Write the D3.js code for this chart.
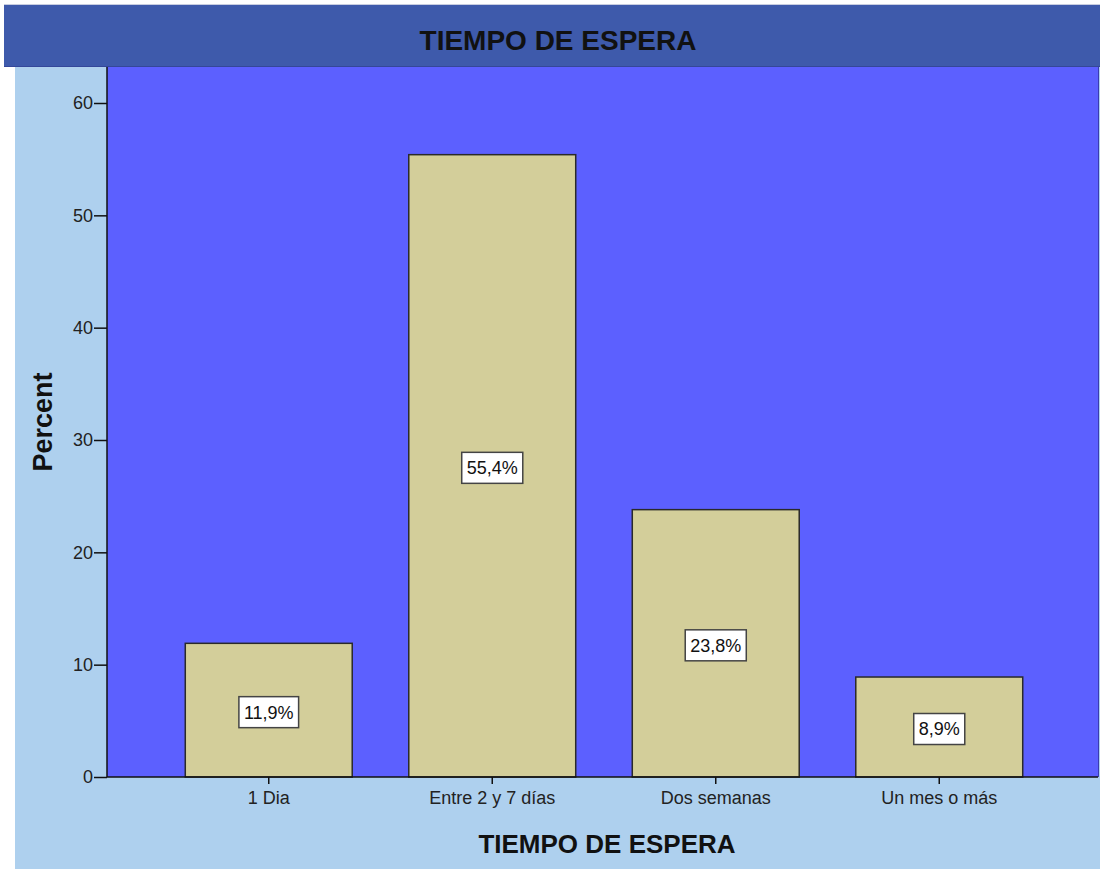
<!DOCTYPE html>
<html>
<head>
<meta charset="utf-8">
<script src="https://cdn.jsdelivr.net/npm/d3@7"></script>
<style>
  body { margin: 0; background: #ffffff; }
  svg { display: block; font-family: "Liberation Sans", Arial, sans-serif; }
</style>
</head>
<body>
<div id="chart"></div>
<script>
// Data
const categories = ["1 Dia", "Entre 2 y 7 días", "Dos semanas", "Un mes o más"];
const percents = [11.9, 55.4, 23.8, 8.9];
const valueLabels = ["11,9%", "55,4%", "23,8%", "8,9%"];
const yTicks = [0, 10, 20, 30, 40, 50, 60];

const width = 1100, height = 869;
const plot = {left: 107, right: 1098, top: 67, bottom: 777};

const svg = d3.select("#chart").append("svg")
    .attr("width", width)
    .attr("height", height);

// Outer light blue panel
svg.append("rect")
    .attr("x", 15).attr("y", 67)
    .attr("width", width - 15).attr("height", height - 67)
    .attr("fill", "#aed0ee");

// Title band
svg.append("rect")
    .attr("x", 4).attr("y", 4)
    .attr("width", width - 4).attr("height", 63)
    .attr("fill", "#3e5aab");
svg.append("line")
    .attr("x1", 4).attr("x2", width)
    .attr("y1", 4.5).attr("y2", 4.5)
    .attr("stroke", "#c8cde0");
svg.append("line")
    .attr("x1", 4).attr("x2", width)
    .attr("y1", 66.5).attr("y2", 66.5)
    .attr("stroke", "#34479a");
svg.append("text")
    .attr("x", 558).attr("y", 50)
    .attr("text-anchor", "middle")
    .style("font-size", "28px")
    .style("font-weight", "bold")
    .attr("fill", "#111")
    .text("TIEMPO DE ESPERA");

// Plot area
svg.append("rect")
    .attr("x", plot.left).attr("y", plot.top)
    .attr("width", plot.right - plot.left).attr("height", plot.bottom - plot.top)
    .attr("fill", "#5c60ff");
svg.append("line")
    .attr("x1", plot.right + 0.5).attr("x2", plot.right + 0.5)
    .attr("y1", plot.top).attr("y2", plot.bottom)
    .attr("stroke", "#3a3cb0");

// Scales
const xScale = d3.scaleBand()
    .domain(categories)
    .range([157, 1051])
    .paddingInner(0.253)
    .paddingOuter(0.1265);

const yScale = d3.scaleLinear()
    .domain([0, 60])
    .range([plot.bottom, 103]);

// Bars
svg.selectAll(".bar")
    .data(categories)
    .enter()
    .append("rect")
    .attr("class", "bar")
    .attr("x", d => xScale(d))
    .attr("y", (d, i) => yScale(percents[i]))
    .attr("width", xScale.bandwidth())
    .attr("height", (d, i) => yScale(0) - yScale(percents[i]))
    .attr("fill", "#d3ce9a")
    .attr("stroke", "#2a2a2a")
    .attr("stroke-width", 1.5);

// Value labels in white boxes
const labelGroups = svg.selectAll(".vlabel")
    .data(categories)
    .enter()
    .append("g")
    .attr("class", "vlabel")
    .attr("transform", (d, i) => `translate(${xScale(d) + xScale.bandwidth() / 2},${yScale(percents[i] / 2) + 2})`);

labelGroups.each(function(d, i) {
    const g = d3.select(this);
    const t = g.append("text")
        .attr("text-anchor", "middle")
        .attr("dy", "0.36em")
        .style("font-size", "18px")
        .attr("fill", "#111")
        .text(valueLabels[i]);
    const w = t.node().getComputedTextLength() + 10;
    g.insert("rect", "text")
        .attr("x", -w / 2).attr("y", -15.5)
        .attr("width", w).attr("height", 31)
        .attr("fill", "#ffffff")
        .attr("stroke", "#444")
        .attr("stroke-width", 1.5);
});

// Y axis
const yAxis = svg.append("g")
    .attr("transform", `translate(${plot.left},0)`)
    .call(d3.axisLeft(yScale).tickValues(yTicks).tickSize(13).tickPadding(1));
yAxis.select(".domain").attr("stroke", "#111").attr("stroke-width", 1.5)
    .attr("d", `M0,${plot.top}V${plot.bottom}`);
yAxis.selectAll(".tick line").attr("stroke", "#111").attr("stroke-width", 1.5);
yAxis.selectAll(".tick text")
    .style("font-size", "18px")
    .style("font-family", "'Liberation Sans', Arial, sans-serif")
    .attr("fill", "#222");

// X axis
const xAxis = svg.append("g")
    .attr("transform", `translate(0,${plot.bottom})`)
    .call(d3.axisBottom(xScale).tickSize(7).tickPadding(7));
xAxis.select(".domain").attr("stroke", "#111").attr("stroke-width", 1.5)
    .attr("d", `M${plot.left},0H${plot.right}`);
xAxis.selectAll(".tick line").attr("stroke", "#111").attr("stroke-width", 1.5);
xAxis.selectAll(".tick text")
    .style("font-size", "18px")
    .style("font-family", "'Liberation Sans', Arial, sans-serif")
    .attr("fill", "#222");

// Axis titles
svg.append("text")
    .attr("x", 607).attr("y", 853)
    .attr("text-anchor", "middle")
    .style("font-size", "26px")
    .style("font-weight", "bold")
    .attr("fill", "#111")
    .text("TIEMPO DE ESPERA");

svg.append("text")
    .attr("transform", "translate(52,422) rotate(-90)")
    .attr("text-anchor", "middle")
    .style("font-size", "27px")
    .style("font-weight", "bold")
    .attr("fill", "#111")
    .text("Percent");
</script>
</body>
</html>
